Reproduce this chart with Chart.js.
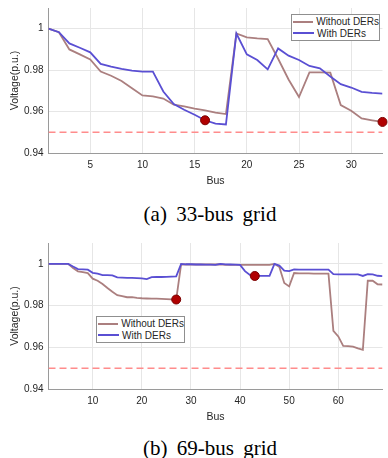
<!DOCTYPE html>
<html>
<head>
<meta charset="utf-8">
<script src="https://cdn.jsdelivr.net/npm/chart.js@4.4.1/dist/chart.umd.min.js"></script>
<style>
  body { margin: 0; background: #fff; width: 388px; height: 458px; position: relative; overflow: hidden;
         font-family: "Liberation Sans", Arial, sans-serif; }
  canvas { position: absolute; left: 0; }
  #gridA { top: 0; }
  #gridB { top: 232px; }
  .legend { position: absolute; border: 1px solid #8f8f8f; background: #fff; box-sizing: border-box;
            width: 89px; height: 27px; padding: 1px 0 0 1px; font-size: 10px; color: #262626; }
  .legend div { height: 11.6px; line-height: 11.6px; display: flex; align-items: center; white-space: nowrap; }
  .legend span.ln { display: inline-block; width: 21px; height: 0; border-top: 2px solid; margin-right: 3px; }
  .caption { position: absolute; left: 0; width: 420px; text-align: center; line-height: 24px;
             font-family: "Liberation Serif", "Times New Roman", serif; font-size: 21px; color: #000; word-spacing: 4px; }
</style>
</head>
<body>
<canvas id="gridA" width="388" height="190"></canvas>
<canvas id="gridB" width="388" height="194"></canvas>

<div class="legend" style="left:291px;top:14px">
  <div><span class="ln" style="border-color:#ab7f7f"></span>Without DERs</div>
  <div><span class="ln" style="border-color:#5a4fd3"></span>With DERs</div>
</div>
<div class="legend" style="left:96px;top:316px">
  <div><span class="ln" style="border-color:#ab7f7f"></span>Without DERs</div>
  <div><span class="ln" style="border-color:#5a4fd3"></span>With DERs</div>
</div>

<div class="caption" style="top:202px">(a) 33-bus grid</div>
<div class="caption" style="top:436px">(b) 69-bus grid</div>

<script>
// 33-bus grid
var busA = [1,2,3,4,5,6,7,8,9,10,11,12,13,14,15,16,17,18,19,20,21,22,23,24,25,26,27,28,29,30,31,32,33];
var withoutA = [1.0000,0.9983,0.9900,0.9876,0.9852,0.9793,0.9773,0.9748,0.9713,0.9678,0.9673,0.9663,0.9633,
                0.9625,0.9614,0.9606,0.9595,0.9588,0.9977,0.9958,0.9953,0.9950,0.9855,0.9755,0.9670,0.9789,
                0.9789,0.9788,0.9631,0.9604,0.9567,0.9558,0.9550];
var withA = [1.0000,0.9983,0.9929,0.9908,0.9886,0.9830,0.9817,0.9806,0.9798,0.9793,0.9793,0.9697,0.9636,
             0.9609,0.9585,0.9558,0.9542,0.9538,0.9977,0.9876,0.9849,0.9804,0.9905,0.9870,0.9849,0.9820,
             0.9809,0.9769,0.9732,0.9716,0.9695,0.9690,0.9687];
var markBusA = [16, 33];
var markOnA = ['with', 'without'];
var xTicksA = [5, 10, 15, 20, 25, 30];

// 69-bus grid
var busB = [1,2,3,4,5,6,7,8,9,10,11,12,13,14,15,16,17,18,19,20,21,22,23,24,25,26,27,28,29,30,31,32,33,34,35,
            36,37,38,39,40,41,42,43,44,45,46,47,48,49,50,51,52,53,54,55,56,57,58,59,60,61,62,63,64,65,66,67,68,69];
var withoutB = [1.0000,1.0000,1.0000,1.0000,1.0000,0.9980,0.9964,0.9960,0.9956,0.9929,0.9919,0.9903,0.9884,
                0.9866,0.9850,0.9845,0.9840,0.9840,0.9837,0.9835,0.9834,0.9833,0.9833,0.9832,0.9831,0.9830,
                0.9829,0.9997,0.9997,0.9997,0.9997,0.9997,0.9997,0.9997,0.9997,0.9998,0.9995,0.9995,0.9995,
                0.9995,0.9995,0.9995,0.9995,0.9995,0.9995,0.9995,1.0000,0.9985,0.9908,0.9892,0.9956,0.9954,
                0.9954,0.9954,0.9953,0.9953,0.9953,0.9953,0.9679,0.9652,0.9607,0.9606,0.9603,0.9595,0.9588,
                0.9919,0.9919,0.9902,0.9901];
var withB = [1.0000,1.0000,1.0000,1.0000,1.0000,0.9987,0.9975,0.9974,0.9972,0.9957,0.9953,0.9946,0.9946,
             0.9945,0.9935,0.9934,0.9933,0.9933,0.9932,0.9930,0.9927,0.9936,0.9937,0.9937,0.9938,0.9939,
             0.9940,1.0000,0.9998,0.9998,0.9997,0.9997,0.9996,0.9996,0.9995,1.0000,0.9998,0.9997,0.9996,
             0.9995,0.9965,0.9947,0.9942,0.9942,0.9942,0.9942,1.0000,0.9992,0.9968,0.9965,0.9973,0.9972,
             0.9972,0.9972,0.9972,0.9972,0.9972,0.9972,0.9951,0.9950,0.9950,0.9950,0.9950,0.9950,0.9942,
             0.9951,0.9950,0.9943,0.9941];
var markBusB = [27, 43];
var markOnB = ['without', 'with'];
var xTicksB = [10, 20, 30, 40, 50, 60];

var yTicks = [0.94, 0.96, 0.98, 1];
var yMin = 0.94, yMax = 1.01;
var limitV = 0.95;

var BLUE = '#5a4fd3';
var BROWN = '#ab7f7f';
var TXT = '#262626';

function series(buses, vals) {
    return buses.map(function (b, i) { return {x: b, y: vals[i]}; });
}

function viewGrid(id, buses, without, withDer, markBus, markOn, xTicks, padTop) {
    var ctx = document.getElementById(id).getContext('2d');
    var lookup = {without: without, with: withDer};
    var marks = markBus.map(function (b, i) {
        return {x: b, y: lookup[markOn[i]][buses.indexOf(b)]};
    });
    var first = buses[0], last = buses[buses.length - 1];

    return new Chart(ctx, {
        type: 'line',
        data: {
            datasets: [{
                label: 'marks',
                data: marks,
                showLine: false,
                pointRadius: 4.5,
                pointBackgroundColor: '#b00000',
                pointBorderColor: '#7a0000',
                pointBorderWidth: 1,
                clip: false
            }, {
                label: 'With DERs',
                data: series(buses, withDer),
                borderColor: BLUE,
                borderWidth: 1.8,
                pointRadius: 0
            }, {
                label: 'Without DERs',
                data: series(buses, without),
                borderColor: BROWN,
                borderWidth: 1.8,
                pointRadius: 0
            }, {
                label: 'limit',
                data: [{x: first, y: limitV}, {x: last, y: limitV}],
                borderColor: '#ff8c8c',
                borderDash: [7, 4],
                borderWidth: 1.5,
                pointRadius: 0
            }]
        },
        options: {
            responsive: false,
            animation: false,
            layout: { padding: { top: padTop, right: 2, left: 0, bottom: 0 } },
            plugins: { legend: { display: false }, tooltip: { enabled: false } },
            scales: {
                x: {
                    type: 'linear',
                    min: first,
                    max: last,
                    afterBuildTicks: function (s) { s.ticks = xTicks.map(function (v) { return {value: v}; }); },
                    afterFit: function (s) { s.height = 37; s.paddingLeft = 0; s.paddingRight = 0; },
                    grid: { color: '#e6e6e6', drawTicks: false },
                    border: { color: '#9a9a9a', width: 1 },
                    ticks: { color: TXT, padding: 6, font: { size: 10, family: 'Liberation Sans' } },
                    title: { display: true, text: 'Bus', color: TXT, padding: { top: 0, bottom: 3 },
                             font: { size: 10.5, family: 'Liberation Sans' } }
                },
                y: {
                    min: yMin,
                    max: yMax,
                    afterBuildTicks: function (s) { s.ticks = yTicks.map(function (v) { return {value: v}; }); },
                    afterFit: function (s) { s.width = 48.5; s.paddingTop = 0; s.paddingBottom = 0; },
                    grid: { color: '#e6e6e6', drawTicks: false },
                    border: { color: '#9a9a9a', width: 1 },
                    ticks: {
                        color: TXT, padding: 5, font: { size: 10, family: 'Liberation Sans' },
                        callback: function (v) { return String(+v.toFixed(2)); }
                    },
                    title: { display: true, text: 'Voltage(p.u.)', color: TXT, padding: { top: 8.5, bottom: 0 },
                             font: { size: 10.5, family: 'Liberation Sans' } }
                }
            }
        }
    });
}

viewGrid('gridA', busA, withoutA, withA, markBusA, markOnA, xTicksA, 8);
viewGrid('gridB', busB, withoutB, withB, markBusB, markOnB, xTicksB, 11);
</script>
</body>
</html>
